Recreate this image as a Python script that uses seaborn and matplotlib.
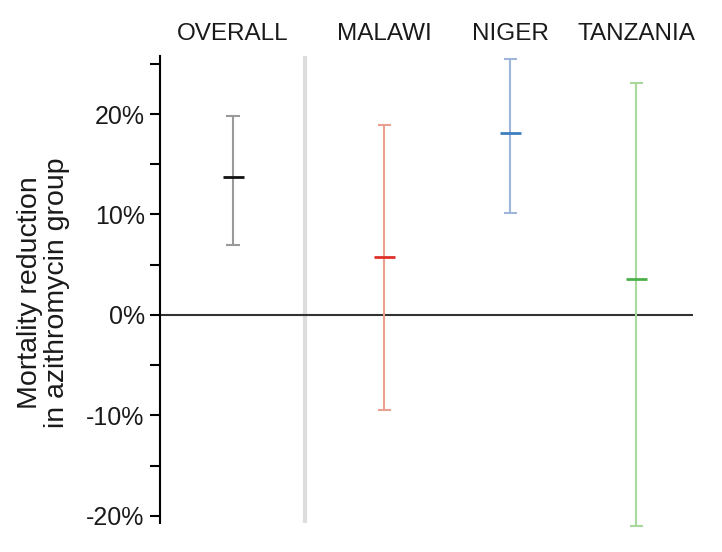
import matplotlib
matplotlib.use("Agg")
import matplotlib.pyplot as plt
import seaborn as sns
import pandas as pd

# data
groups = ["OVERALL", "MALAWI", "NIGER", "TANZANIA"]
estimate = [13.7, 5.8, 18.1, 3.6]
ci_low = [7.0, -9.45, 10.1, -21.0]
ci_high = [19.8, 18.9, 25.5, 23.1]
ytick_vals = [-20, -15, -10, -5, 0, 5, 10, 15, 20, 25]
ytick_labels = ["-20%", "", "-10%", "", "0%", "", "10%", "", "20%", ""]

# layout / style
xpos = [0.0, 1.2, 2.2, 3.2]
point_colors = ["#111111", "#e0302a", "#3f7fbf", "#4cb04a"]
ci_colors = ["#9a9a9a", "#eaa08e", "#9fb6da", "#a8d89c"]

sns.set_style("ticks")
plt.rcParams["font.family"] = ["Liberation Sans", "DejaVu Sans"]
plt.rcParams["text.color"] = "#1a1a1a"
plt.rcParams["axes.labelcolor"] = "#1a1a1a"
plt.rcParams["xtick.color"] = "#1a1a1a"
plt.rcParams["ytick.color"] = "#1a1a1a"

fig = plt.figure(figsize=(7.22, 5.52), dpi=100)
ax = fig.add_axes([160/722, 0.038, (693-160)/722, 0.8647])

df = pd.DataFrame({"group": groups, "x": xpos, "est": estimate,
                   "lo": ci_low, "hi": ci_high})
long = pd.concat([
    pd.DataFrame({"group": groups, "x": xpos, "y": ci_low}),
    pd.DataFrame({"group": groups, "x": xpos, "y": ci_high}),
])

ci_pal = dict(zip(groups, ci_colors))
pt_pal = dict(zip(groups, point_colors))

ax.vlines(0.571, -20.7, 25.8, color="#dddddd", lw=3, zorder=1)
ax.axhline(0, color="#333333", lw=1.5, zorder=1)

sns.lineplot(data=long, x="x", y="y", hue="group", units="group",
             estimator=None, palette=ci_pal, lw=1.5, legend=False, ax=ax,
             zorder=2, sort=False)
for col in ["lo", "hi"]:
    sns.scatterplot(data=df, x="x", y=col, hue="group", palette=ci_pal,
                    marker="_", s=90, linewidth=1.5, legend=False, ax=ax,
                    zorder=3, clip_on=False)
sns.scatterplot(data=df, x="x", y="est", hue="group", palette=pt_pal,
                marker="_", s=230, linewidth=2, legend=False, ax=ax, zorder=4)

ax.set_xlim(-0.58, 3.65)
ax.set_ylim(-21.5, 26)
ax.set_yticks(ytick_vals)
ax.set_yticklabels(ytick_labels, fontsize=18)
ax.tick_params(axis="y", length=7, width=1.5, pad=4, color="black")

ax.set_xticks(xpos)
ax.set_xticklabels(groups, fontsize=17.5)
ax.xaxis.tick_top()
ax.tick_params(axis="x", length=0, pad=6)

for s in ["right", "bottom", "top"]:
    ax.spines[s].set_visible(False)
ax.spines["left"].set_linewidth(1.5)
ax.spines["left"].set_color("black")
ax.spines["left"].set_bounds(-20.7, 25.8)

ax.set_xlabel("")
ax.set_ylabel("Mortality reduction\nin azithromycin group", fontsize=20.5,
              labelpad=12, linespacing=1.05)

fig.savefig("out.png", dpi=100)
